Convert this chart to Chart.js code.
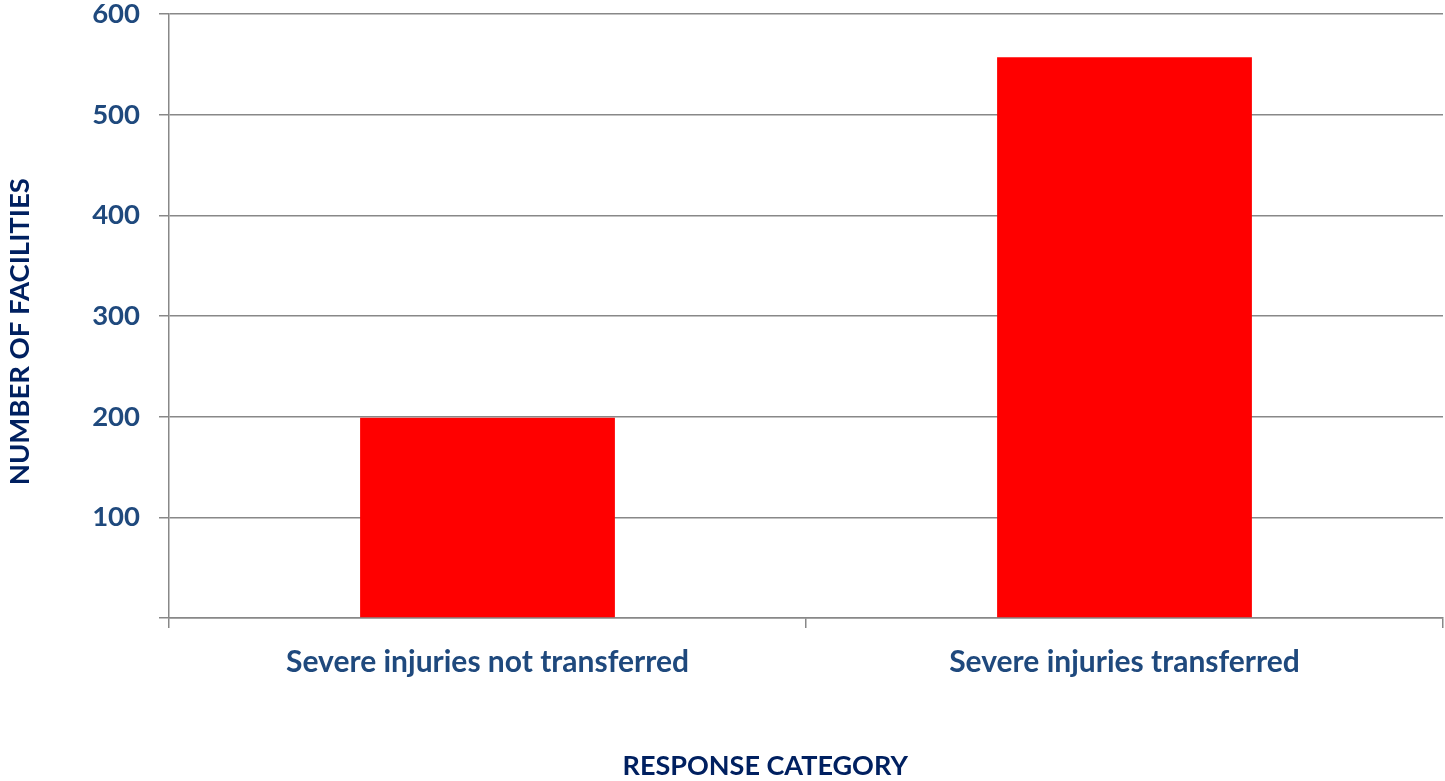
<!DOCTYPE html>
<html><head><meta charset="utf-8">
<script src="https://cdn.jsdelivr.net/npm/chart.js@4"></script>
<style>html,body{margin:0;padding:0;background:#fff;}#wrap{width:1445px;height:781px;}</style>
</head><body><div id="wrap"><canvas id="c" width="1445" height="781"></canvas></div>
<script>
const categories = ["Severe injuries not transferred", "Severe injuries transferred"];
const facilities = [199, 557];
const yTicks = [0, 100, 200, 300, 400, 500, 600];
const xTitle = "RESPONSE CATEGORY";
const yTitle = "NUMBER OF FACILITIES";

const FONT = "Lato, 'Open Sans', sans-serif";

const axisTitles = {
  id: 'axisTitles',
  afterDraw(chart) {
    const ctx = chart.ctx, a = chart.chartArea;
    ctx.save();
    ctx.fillStyle = '#002060';
    ctx.textAlign = 'center';
    ctx.textBaseline = 'middle';
    ctx.font = "bold 27px " + FONT;
    ctx.fillText(xTitle, a.left + (a.right - a.left) * 0.468, a.bottom + 148);
    ctx.font = "bold 27.5px " + FONT;
    ctx.translate(20, a.top + (a.bottom - a.top) * 0.526);
    ctx.rotate(-Math.PI / 2);
    ctx.fillText(yTitle, 0, 0);
    ctx.restore();
  }
};

new Chart(document.getElementById('c'), {
  type: 'bar',
  data: { labels: categories, datasets: [{ data: facilities, backgroundColor: '#FF0000', barPercentage: 0.4, categoryPercentage: 1.0 }] },
  plugins: [axisTitles],
  options: {
    responsive: false, animation: false, devicePixelRatio: 1,
    layout: { padding: { top: 14, right: 2, left: 0, bottom: 0 } },
    plugins: { legend: { display: false }, tooltip: { enabled: false } },
    scales: {
      x: {
        offset: true,
        grid: { offset: true, drawOnChartArea: false, drawTicks: true, tickLength: 10, color: '#888', lineWidth: 1.5 },
        border: { display: true, color: '#888', width: 1.5 },
        ticks: { color: '#1F497D', padding: 16, font: { family: FONT, size: 30, weight: 'bold' } },
        title: { display: false },
        afterFit: s => { s.height = 163; s.paddingLeft = 0; s.paddingRight = 0; }
      },
      y: {
        min: 0, max: 600,
        afterBuildTicks: s => { s.ticks = yTicks.map(v => ({ value: v })); },
        grid: { color: '#888', lineWidth: 1.5, tickLength: 10 },
        border: { display: true, color: '#888', width: 1.5 },
        ticks: { color: '#1F497D', padding: 19, font: { family: FONT, size: 27.5, weight: 'bold' }, callback: v => v === 0 ? '' : v },
        title: { display: false },
        afterFit: s => { s.width = 169; s.paddingTop = 0; s.paddingBottom = 0; }
      }
    }
  }
});
</script></body></html>
